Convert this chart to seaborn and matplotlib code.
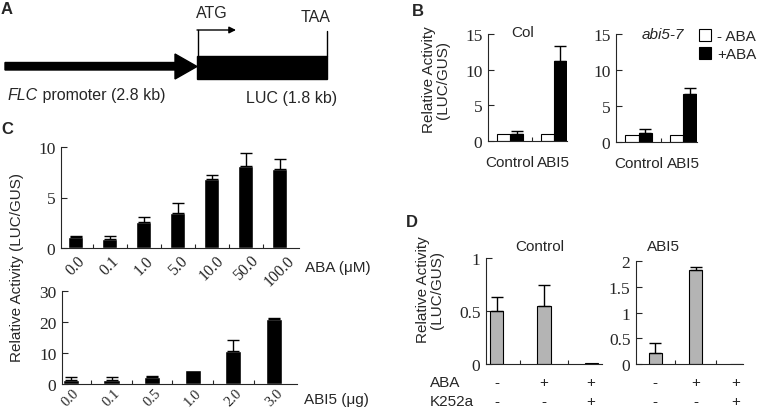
import numpy as np
import pandas as pd
import seaborn as sns
import matplotlib.pyplot as plt
from matplotlib.patches import Patch, Polygon, Rectangle

# Panel B: reporter activity in Col and abi5-7
b_groups = ["Control", "ABI5"]
col_minus = [1.0, 1.0]
col_plus = [1.0, 11.2]
col_plus_err = [0.4, 2.1]
abi_minus = [1.0, 1.0]
abi_plus = [1.2, 6.7]
abi_plus_err = [0.6, 0.8]

# Panel C: dose response to ABA and ABI5
aba_doses = ["0.0", "0.1", "1.0", "5.0", "10.0", "50.0", "100.0"]
aba_act = [1.05, 0.9, 2.55, 3.45, 6.85, 8.1, 7.85]
aba_err = [0.1, 0.3, 0.5, 1.0, 0.4, 1.3, 0.95]
abi5_doses = ["0.0", "0.1", "0.5", "1.0", "2.0", "3.0"]
abi5_act = [1.4, 1.4, 2.3, 4.4, 10.5, 21.0]
abi5_err = [0.8, 0.8, 0.3, 0.0, 3.8, 0.3]

# Panel D: K252a treatment
d_aba = ["-", "+", "+"]
d_k252a = ["-", "-", "+"]
d_ctrl = [0.5, 0.55, 0.01]
d_ctrl_err = [0.13, 0.2, 0.0]
d_abi5 = [0.22, 1.82, 0.0]
d_abi5_err = [0.18, 0.06, 0.0]

W, H = 757, 414
SANS = "Liberation Sans"
SERIF = "Liberation Serif"

sns.set_style("ticks")
plt.rcParams["font.family"] = SANS
plt.rcParams["axes.linewidth"] = 0.8

fig = plt.figure(figsize=(W / 100, H / 100), dpi=100)


def px_axes(l, t, r, b):
    return fig.add_axes([l / W, 1 - b / H, (r - l) / W, (b - t) / H])


def ftext(x, y, s, **kw):
    kw.setdefault("fontsize", 11)
    return fig.text(x / W, 1 - y / H, s, **kw)


def add_err(ax, bars, errs):
    for bar, e in zip(bars, errs):
        if e > 0:
            x = bar.get_x() + bar.get_width() / 2
            ax.errorbar(x, bar.get_height(), yerr=[[0], [e]], fmt="none",
                        ecolor="black", elinewidth=1, capsize=4, capthick=1)


def style(ax, yticks, ylabels, n, xlim):
    ax.set_ylim(yticks[0], yticks[-1])
    ax.set_yticks(yticks, ylabels, fontfamily=SERIF, fontsize=12.5)
    ax.set_xlim(*xlim)
    ax.set_xticks(np.arange(n - 1) + 0.5, minor=True)
    ax.tick_params(axis="x", which="major", length=0)
    ax.tick_params(axis="x", which="minor", length=3, direction="in", width=0.8)
    ax.tick_params(axis="y", length=4, direction="in", width=0.8, pad=4)
    ax.set_xlabel("")
    ax.set_ylabel("")
    sns.despine(ax=ax)


# ---------------- Panel A: construct diagram ----------------
axA = px_axes(0, 0, 380, 120)
axA.set_xlim(0, 380)
axA.set_ylim(120, 0)
axA.axis("off")
axA.add_patch(Polygon([(5, 63.5), (175, 63.5), (175, 55), (197, 67.5), (175, 80),
                       (175, 71), (5, 71)], closed=True, color="black"))
axA.add_patch(Rectangle((197, 57), 130, 23, color="black"))
axA.plot([197.5, 197.5], [57, 31], color="black", lw=1)
axA.annotate("", xy=(236, 31), xytext=(197, 31),
             arrowprops=dict(arrowstyle="-|>", color="black", lw=1, mutation_scale=10,
                             shrinkA=0, shrinkB=0))
axA.plot([327, 327], [57, 32], color="black", lw=1)
axA.text(212, 14, "ATG", ha="center", va="center", fontsize=11.5)
axA.text(316, 18, "TAA", ha="center", va="center", fontsize=11.5)
t = axA.text(8, 96, "FLC", ha="left", va="center", fontsize=11.5, style="italic")
axA.annotate(" promoter (2.8 kb)", xy=(1, 0.5), xycoords=t, ha="left", va="center",
             fontsize=11.5)
axA.text(292, 99, "LUC (1.8 kb)", ha="center", va="center", fontsize=11.5)

# ---------------- Panel B ----------------
treat = ["- ABA"] * 2 + ["+ABA"] * 2
pal = {"- ABA": "white", "+ABA": "black"}
b_sets = [
    ((488, 35, 567, 142), col_minus, col_plus, col_plus_err),
    ((616, 35, 697, 143), abi_minus, abi_plus, abi_plus_err),
]
b_axes = []
for rect, minus, plus, perr in b_sets:
    ax = px_axes(*rect)
    df = pd.DataFrame({"group": b_groups * 2, "treat": treat, "value": minus + plus})
    sns.barplot(data=df, x="group", y="value", hue="treat", palette=pal,
                order=b_groups, hue_order=["- ABA", "+ABA"], width=0.6,
                edgecolor="black", linewidth=0.8, saturation=1, errorbar=None,
                legend=False, ax=ax)
    add_err(ax, ax.containers[1], perr)
    style(ax, [0, 5, 10, 15], ["0", "5", "10", "15"], 2, (-0.51, 1.31))
    ax.set_xticks(range(2), b_groups, fontsize=11)
    ax.tick_params(axis="x", which="major", pad=10)
    b_axes.append(ax)

ftext(523, 33, "Col", ha="center", va="center")
ftext(663, 35, "abi5-7", ha="center", va="center", style="italic")
ftext(436, 80, "Relative Activity\n(LUC/GUS)", ha="center", va="center",
      rotation=90, linespacing=1.0, multialignment="center")
b_axes[1].legend(handles=[Patch(facecolor="white", edgecolor="black", lw=0.8, label="- ABA"),
                          Patch(facecolor="black", edgecolor="black", lw=0.8, label="+ABA")],
                 loc="upper left", bbox_to_anchor=(699 / W, 1 - 30 / H),
                 bbox_transform=fig.transFigure, frameon=False, fontsize=11,
                 handlelength=0.8, handleheight=0.8, handletextpad=0.4,
                 labelspacing=0.25, borderaxespad=0, borderpad=0)

# ---------------- Panel C ----------------
axC1 = px_axes(61, 148, 299, 249)
sns.barplot(x=aba_doses, y=aba_act, order=aba_doses, color="black", width=0.44,
            saturation=1, errorbar=None, ax=axC1)
add_err(axC1, axC1.containers[0], aba_err)
style(axC1, [0, 5, 10], ["0", "5", "10"], 7, (-0.44, 6.56))
axC1.set_xticks(range(7), aba_doses, rotation=45, ha="center",
                fontfamily=SERIF, fontsize=11.5)
axC1.tick_params(axis="x", which="major", pad=3)

axC2 = px_axes(62, 292, 297, 385)
sns.barplot(x=abi5_doses, y=abi5_act, order=abi5_doses, color="black", width=0.4,
            saturation=1, errorbar=None, ax=axC2)
add_err(axC2, axC2.containers[0], abi5_err)
style(axC2, [0, 10, 20, 30], ["0", "10", "20", "30"], 6, (-0.22, 5.57))
axC2.set_xticks(range(6), abi5_doses, rotation=45, ha="center",
                fontfamily=SERIF, fontsize=10.5)
axC2.tick_params(axis="x", which="major", pad=1.5)

ftext(338, 268, "ABA (\u03bcM)", ha="center", va="center")
ftext(336, 400, "ABI5 (\u03bcg)", ha="center", va="center")
ftext(17, 268, "Relative Activity (LUC/GUS)", ha="center", va="center", rotation=90)

# ---------------- Panel D ----------------
d_cats = [a + "/" + k for a, k in zip(d_aba, d_k252a)]
d_sets = [
    ((486, 259, 602, 365), d_ctrl, d_ctrl_err, [0, 0.5, 1], ["0", "0.5", "1"],
     (-0.23, 2.23), 0.28),
    ((636, 262, 743, 365), d_abi5, d_abi5_err, [0, 0.5, 1, 1.5, 2],
     ["0", "0.5", "1", "1.5", "2"], (-0.47, 2.17), 0.32),
]
for rect, vals, errs, yt, yl, xl, w in d_sets:
    ax = px_axes(*rect)
    sns.barplot(x=d_cats, y=vals, order=d_cats, color="#b4b4b4", width=w,
                edgecolor="black", linewidth=0.8, saturation=1, errorbar=None, ax=ax)
    add_err(ax, ax.containers[0], errs)
    style(ax, yt, yl, 3, xl)
    ax.set_xticks(range(3), [""] * 3)
    h = rect[3] - rect[1]
    for i, (a, k) in enumerate(zip(d_aba, d_k252a)):
        ax.text(i, -(383 - rect[3]) / h, a, transform=ax.get_xaxis_transform(),
                ha="center", va="center", fontsize=11)
        ax.text(i, -(402 - rect[3]) / h, k, transform=ax.get_xaxis_transform(),
                ha="center", va="center", fontsize=11)

ftext(540, 247, "Control", ha="center", va="center")
ftext(663, 247, "ABI5", ha="center", va="center")
ftext(430, 383, "ABA", ha="left", va="center")
ftext(430, 402, "K252a", ha="left", va="center")
ftext(430, 290, "Relative Activity\n(LUC/GUS)", ha="center", va="center",
      rotation=90, linespacing=1.0, multialignment="center")

# panel letters
for x, y, s in [(7, 9, "A"), (418, 12, "B"), (7, 130, "C"), (412, 223, "D")]:
    ftext(x, y, s, ha="center", va="center", fontsize=12, fontweight="bold")

fig.savefig("out.png", dpi=100)
